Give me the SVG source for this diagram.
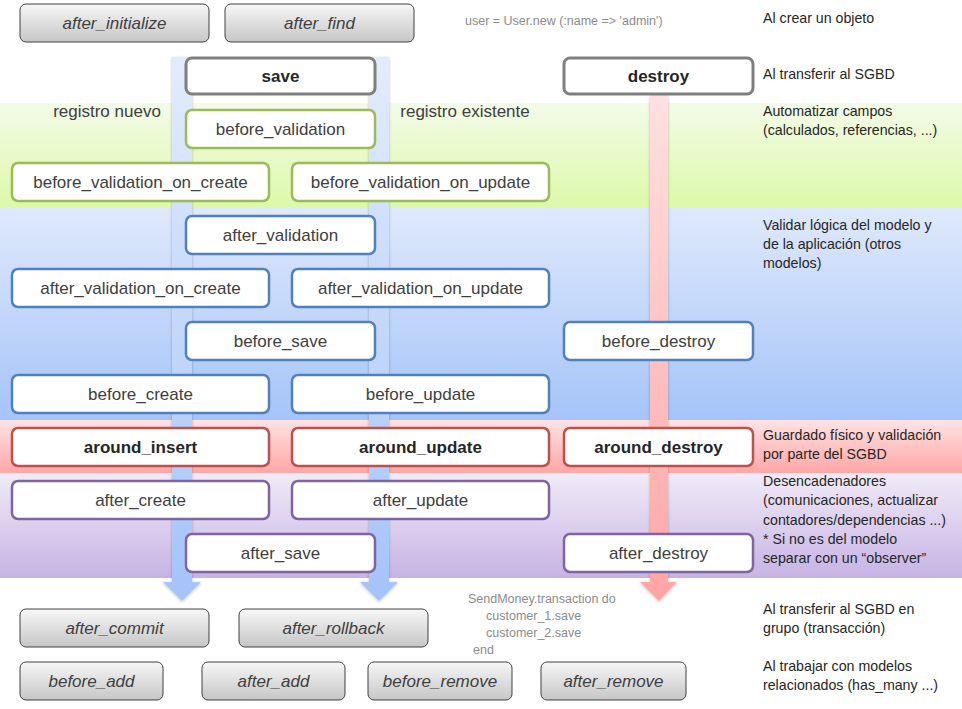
<svg xmlns="http://www.w3.org/2000/svg" width="962" height="709" viewBox="0 0 962 709">
<style>
.lbl{font-family:"Liberation Sans",Arial,sans-serif;font-size:17px;fill:#404040;text-anchor:middle}
.b{font-weight:bold;fill:#262626}
.it{font-style:italic}
.note{font-family:"Liberation Sans",Arial,sans-serif;font-size:14.2px;fill:#262626}
.code{font-family:"Liberation Sans",Arial,sans-serif;font-size:12.5px;fill:#8c8c8c}
.gray{fill:url(#gGray);stroke:#404040;stroke-width:1}
.main{fill:#fff;stroke:#7f7f7f;stroke-width:3}
.grn{fill:#fff;stroke:#9bbb59;stroke-width:2.5}
.blu{fill:#fff;stroke:#4f81bd;stroke-width:2.5}
.red{fill:#fff;stroke:#c0504d;stroke-width:2.5}
.pur{fill:#fff;stroke:#8064a2;stroke-width:2.5}
</style>
<defs>
<linearGradient id="gGray" x1="0" y1="0" x2="0" y2="1"><stop offset="0" stop-color="#f7f7f7"/><stop offset="1" stop-color="#c6c6c6"/></linearGradient>
<linearGradient id="bGreen" x1="0" y1="0" x2="0" y2="1"><stop offset="0" stop-color="#f3fbe8"/><stop offset="1" stop-color="#dcf9a9"/></linearGradient>
<linearGradient id="bBlue" x1="0" y1="0" x2="0" y2="1"><stop offset="0" stop-color="#dfe9fb"/><stop offset="1" stop-color="#a5c4f9"/></linearGradient>
<linearGradient id="bRed" x1="0" y1="0" x2="0" y2="1"><stop offset="0" stop-color="#ffe3e3"/><stop offset="1" stop-color="#ffa6a6"/></linearGradient>
<linearGradient id="bPur" x1="0" y1="0" x2="0" y2="1"><stop offset="0" stop-color="#f1ebf7"/><stop offset="1" stop-color="#c6b3e4"/></linearGradient>
<linearGradient id="aBlue" gradientUnits="userSpaceOnUse" x1="0" y1="57" x2="0" y2="601"><stop offset="0" stop-color="#e3ecfc"/><stop offset="1" stop-color="#a4c3f9"/></linearGradient>
<linearGradient id="aRed" gradientUnits="userSpaceOnUse" x1="0" y1="95" x2="0" y2="601"><stop offset="0" stop-color="#ffe0e0"/><stop offset="1" stop-color="#ffa4a4"/></linearGradient>
<filter id="sh" x="-30%" y="-5%" width="160%" height="110%"><feDropShadow dx="0" dy="1" stdDeviation="1.5" flood-color="#000" flood-opacity="0.25"/></filter>
</defs>
<rect width="962" height="709" fill="#fff"/>
<g id="bands">
<rect x="0" y="103" width="962" height="104" fill="url(#bGreen)"/>
<rect x="0" y="207" width="962" height="213" fill="url(#bBlue)"/>
<rect x="0" y="420" width="962" height="53" fill="url(#bRed)"/>
<rect x="0" y="473" width="962" height="105" fill="url(#bPur)"/>
</g>
<g id="connectors" filter="url(#sh)">
<path d="M172,57 H192 V582 H201 L182,601 L163,582 H172 Z" fill="url(#aBlue)"/>
<path d="M369,57 H389 V582 H398 L379,601 L360,582 H369 Z" fill="url(#aBlue)"/>
<path d="M650,95 H668 V582 H677 L659,601 L640,582 H650 Z" fill="url(#aRed)"/>
</g>
<g id="n_after_initialize"><rect class="gray" x="20" y="4" width="189" height="38" rx="6"/><text class="lbl it" x="114.5" y="29">after_initialize</text></g>
<g id="n_after_find"><rect class="gray" x="225" y="4" width="189" height="38" rx="6"/><text class="lbl it" x="319.5" y="29">after_find</text></g>
<g id="n_save"><rect class="main" x="186" y="58" width="189" height="36" rx="6"/><text class="lbl b" x="280.5" y="82">save</text></g>
<g id="n_destroy"><rect class="main" x="564" y="58" width="189" height="36" rx="6"/><text class="lbl b" x="658.5" y="82">destroy</text></g>
<g id="n_before_validation"><rect class="grn" x="186" y="110" width="189" height="38" rx="6"/><text class="lbl" x="280.5" y="135">before_validation</text></g>
<g id="n_bv_create"><rect class="grn" x="12" y="163" width="257" height="38" rx="6"/><text class="lbl" x="140.5" y="188">before_validation_on_create</text></g>
<g id="n_bv_update"><rect class="grn" x="292" y="163" width="257" height="38" rx="6"/><text class="lbl" x="420.5" y="188">before_validation_on_update</text></g>
<g id="n_after_validation"><rect class="blu" x="186" y="216" width="189" height="38" rx="6"/><text class="lbl" x="280.5" y="241">after_validation</text></g>
<g id="n_av_create"><rect class="blu" x="12" y="269" width="257" height="38" rx="6"/><text class="lbl" x="140.5" y="294">after_validation_on_create</text></g>
<g id="n_av_update"><rect class="blu" x="292" y="269" width="257" height="38" rx="6"/><text class="lbl" x="420.5" y="294">after_validation_on_update</text></g>
<g id="n_before_save"><rect class="blu" x="186" y="322" width="189" height="38" rx="6"/><text class="lbl" x="280.5" y="347">before_save</text></g>
<g id="n_before_destroy"><rect class="blu" x="564" y="322" width="189" height="38" rx="6"/><text class="lbl" x="658.5" y="347">before_destroy</text></g>
<g id="n_before_create"><rect class="blu" x="12" y="375" width="257" height="38" rx="6"/><text class="lbl" x="140.5" y="400">before_create</text></g>
<g id="n_before_update"><rect class="blu" x="292" y="375" width="257" height="38" rx="6"/><text class="lbl" x="420.5" y="400">before_update</text></g>
<g id="n_around_insert"><rect class="red" x="12" y="428" width="257" height="38" rx="6"/><text class="lbl b" x="140.5" y="453">around_insert</text></g>
<g id="n_around_update"><rect class="red" x="292" y="428" width="257" height="38" rx="6"/><text class="lbl b" x="420.5" y="453">around_update</text></g>
<g id="n_around_destroy"><rect class="red" x="564" y="428" width="189" height="38" rx="6"/><text class="lbl b" x="658.5" y="453">around_destroy</text></g>
<g id="n_after_create"><rect class="pur" x="12" y="481" width="257" height="38" rx="6"/><text class="lbl" x="140.5" y="506">after_create</text></g>
<g id="n_after_update"><rect class="pur" x="292" y="481" width="257" height="38" rx="6"/><text class="lbl" x="420.5" y="506">after_update</text></g>
<g id="n_after_save"><rect class="pur" x="186" y="534" width="189" height="38" rx="6"/><text class="lbl" x="280.5" y="559">after_save</text></g>
<g id="n_after_destroy"><rect class="pur" x="564" y="534" width="189" height="38" rx="6"/><text class="lbl" x="658.5" y="559">after_destroy</text></g>
<g id="n_after_commit"><rect class="gray" x="20" y="609" width="189" height="38" rx="6"/><text class="lbl it" x="114.5" y="634">after_commit</text></g>
<g id="n_after_rollback"><rect class="gray" x="239" y="609" width="189" height="38" rx="6"/><text class="lbl it" x="333.5" y="634">after_rollback</text></g>
<g id="n_before_add"><rect class="gray" x="20" y="662" width="143" height="38" rx="6"/><text class="lbl it" x="91.5" y="687">before_add</text></g>
<g id="n_after_add"><rect class="gray" x="202" y="662" width="143" height="38" rx="6"/><text class="lbl it" x="273.5" y="687">after_add</text></g>
<g id="n_before_remove"><rect class="gray" x="368" y="662" width="144" height="38" rx="6"/><text class="lbl it" x="440" y="687">before_remove</text></g>
<g id="n_after_remove"><rect class="gray" x="541" y="662" width="145" height="38" rx="6"/><text class="lbl it" x="613.5" y="687">after_remove</text></g>
<g id="labels">
<text class="lbl" x="107" y="117">registro nuevo</text>
<text class="lbl" x="465" y="117">registro existente</text>
<text class="code" x="465" y="25">user = User.new (:name =&gt; 'admin')</text>
<text class="code" x="468" y="603">SendMoney.transaction do</text>
<text class="code" x="486" y="620">customer_1.save</text>
<text class="code" x="486" y="637">customer_2.save</text>
<text class="code" x="473" y="654">end</text>
</g>
<g id="notes">
<text class="note" x="763" y="23">Al crear un objeto</text>
<text class="note" x="763" y="79">Al transferir al SGBD</text>
<text class="note" x="763" y="116">Automatizar campos</text>
<text class="note" x="763" y="135">(calculados, referencias, ...)</text>
<text class="note" x="763" y="230">Validar lógica del modelo y</text>
<text class="note" x="763" y="249">de la aplicación (otros</text>
<text class="note" x="763" y="268">modelos)</text>
<text class="note" x="763" y="440">Guardado físico y validación</text>
<text class="note" x="763" y="459">por parte del SGBD</text>
<text class="note" x="763" y="486">Desencadenadores</text>
<text class="note" x="763" y="505">(comunicaciones, actualizar</text>
<text class="note" x="763" y="525">contadores/dependencias ...)</text>
<text class="note" x="763" y="544">* Si no es del modelo</text>
<text class="note" x="763" y="563">separar con un “observer”</text>
<text class="note" x="763" y="614">Al transferir al SGBD en</text>
<text class="note" x="763" y="633">grupo (transacción)</text>
<text class="note" x="763" y="671">Al trabajar con modelos</text>
<text class="note" x="763" y="690">relacionados (has_many ...)</text>
</g>
</svg>
